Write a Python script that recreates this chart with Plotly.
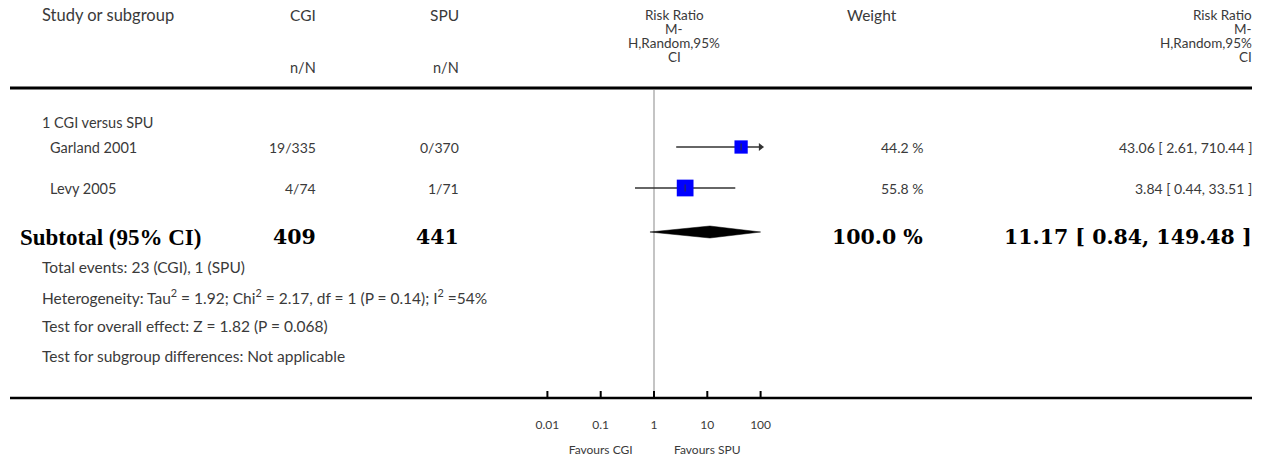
import plotly.graph_objects as go

# ---------------- data ----------------
studies = ["Garland 2001", "Levy 2005"]
cgi_nN = ["19/335", "4/74"]
spu_nN = ["0/370", "1/71"]
rr = [43.06, 3.84]
ci_lo = [2.61, 0.44]
ci_hi = [710.44, 33.51]
weights = [44.2, 55.8]
weight_txt = ["44.2 %", "55.8 %"]
rr_txt = ["43.06 [ 2.61, 710.44 ]", "3.84 [ 0.44, 33.51 ]"]

sub_cgi_total = "409"
sub_spu_total = "441"
sub_rr = 11.17
sub_lo = 0.84
sub_hi = 149.48
sub_weight_txt = "100.0 %"
sub_rr_txt = "11.17 [ 0.84, 149.48 ]"

tick_vals = [0.01, 0.1, 1, 10, 100]
tick_text = ["0.01", "0.1", "1", "10", "100"]

footer_lines = [
    "Total events: 23 (CGI), 1 (SPU)",
    "Heterogeneity: Tau<sup>2</sup> = 1.92; Chi<sup>2</sup> = 2.17, df = 1 (P = 0.14); I<sup>2</sup> =54%",
    "Test for overall effect: Z = 1.82 (P = 0.068)",
    "Test for subgroup differences: Not applicable",
]

# ---------------- layout constants ----------------
W, H = 1268, 465
X1_PX = 654.0        # pixel of RR = 1
DEC_PX = 53.3        # pixels per decade
AX_MIN, AX_MAX = 0.01, 100
x_range = [(0 - X1_PX) / DEC_PX, (W - X1_PX) / DEC_PX]

FONT = "Lato, 'Open Sans', sans-serif"
SERIF = "'Liberation Serif', serif"
SERIF2 = "'DejaVu Serif', serif"
TXT = "#3a3a3a"
FS = 14.5
FSN = 14

row_y = [147, 188]
sub_y = 232
head_line_y = 88
axis_y = 398

col_cgi = 318 / W
col_spu = 461 / W
col_w = 925 / W
col_rr = 1254 / W
col_mid = 674 / W

fig = go.Figure()

def clip(v):
    return min(max(v, AX_MIN), AX_MAX)

# header and axis horizontal rules (in paper x)
for yy, lw in [(head_line_y, 3), (axis_y, 2.5)]:
    fig.add_shape(type="line", xref="paper", yref="y", x0=10 / W, x1=1252 / W,
                  y0=yy, y1=yy, line=dict(color="black", width=lw))

# line of no effect
fig.add_trace(go.Scatter(x=[1, 1], y=[head_line_y + 2, axis_y], mode="lines",
                         line=dict(color="#b0b0b0", width=1.5), hoverinfo="skip",
                         showlegend=False))

# ticks
for tv in tick_vals:
    fig.add_trace(go.Scatter(x=[tv, tv], y=[axis_y - 7, axis_y], mode="lines",
                             line=dict(color="black", width=2), hoverinfo="skip",
                             showlegend=False))
fig.add_trace(go.Scatter(x=tick_vals, y=[426] * len(tick_vals), mode="text",
                         text=tick_text, textfont=dict(family=FONT, size=12, color=TXT),
                         hoverinfo="skip", showlegend=False))
fig.add_trace(go.Scatter(x=[0.1, 10], y=[451, 451], mode="text",
                         text=["Favours CGI", "Favours SPU"],
                         textfont=dict(family=FONT, size=12, color=TXT),
                         hoverinfo="skip", showlegend=False))

# study CIs, squares
for i in range(len(studies)):
    lo, hi = clip(ci_lo[i]), clip(ci_hi[i])
    fig.add_trace(go.Scatter(x=[lo, hi], y=[row_y[i]] * 2, mode="lines",
                             line=dict(color="#333333", width=1.5),
                             hoverinfo="skip", showlegend=False))
    if ci_hi[i] > AX_MAX:
        fig.add_trace(go.Scatter(x=[AX_MAX], y=[row_y[i]], mode="markers",
                                 marker=dict(symbol="triangle-right", size=7, color="#333333",
                                             line=dict(width=0)),
                                 hoverinfo="skip", showlegend=False))
    fig.add_trace(go.Scatter(x=[rr[i]], y=[row_y[i]], mode="markers",
                             marker=dict(symbol="square", size=weights[i] * 0.3,
                                         color="#0000ff", line=dict(width=0)),
                             hoverinfo="skip", showlegend=False))
    fig.add_trace(go.Scatter(x=[rr[i]], y=[row_y[i]], mode="markers",
                             marker=dict(symbol="line-ns", size=5,
                                         line=dict(color="#333333", width=1)),
                             hoverinfo="skip", showlegend=False))

# diamond
dh = 6
fig.add_trace(go.Scatter(
    x=[clip(sub_lo), sub_rr, clip(sub_hi), sub_rr, clip(sub_lo)],
    y=[sub_y, sub_y - dh, sub_y, sub_y + dh, sub_y],
    mode="lines", fill="toself", fillcolor="black",
    line=dict(color="black", width=0.5), hoverinfo="skip", showlegend=False))

# ---------------- text annotations ----------------
ann = []

def txt(x, y, s, anchor="left", size=FS, family=FONT, color=TXT, bold=False):
    if bold:
        s = "<b>" + s + "</b>"
    ann.append(dict(x=x, y=y, xref="paper", yref="y", text=s, showarrow=False,
                    xanchor=anchor, yanchor="middle",
                    font=dict(family=family, size=size, color=color)))

# header
hy = [15, 29, 43, 57]
txt(40 / W, hy[0], "Study or subgroup", size=16.5)
txt(col_cgi, hy[0], "CGI", "right", size=15.5)
txt(col_spu, hy[0], "SPU", "right", size=15.5)
txt(col_cgi, 67, "n/N", "right")
txt(col_spu, 67, "n/N", "right")
for yy, s in zip(hy, ["Risk Ratio", "M-", "H,Random,95%", "CI"]):
    txt(col_mid, yy, s, "center", size=13.5)
    txt(col_rr, yy, s, "right", size=13.5)
txt(872 / W, hy[0], "Weight", "center", size=15.5)

# subgroup
txt(40 / W, 122, "1 CGI versus SPU", size=FS)
for i in range(len(studies)):
    txt(48 / W, row_y[i], studies[i])
    txt(col_cgi, row_y[i], cgi_nN[i], "right", size=FSN)
    txt(col_spu, row_y[i], spu_nN[i], "right", size=FSN)
    txt(col_w, row_y[i], weight_txt[i], "right", size=FSN)
    txt(col_rr, row_y[i], rr_txt[i], "right", size=FSN)

txt(18 / W, 237, "Subtotal (95% CI)", size=23, family=SERIF, color="black", bold=True)
NUMS = 20.5
txt(col_cgi, 237, sub_cgi_total, "right", size=NUMS, family=SERIF2, color="black", bold=True)
txt(col_spu, 237, sub_spu_total, "right", size=NUMS, family=SERIF2, color="black", bold=True)
txt(col_w, 237, sub_weight_txt, "right", size=NUMS, family=SERIF2, color="black", bold=True)
txt(col_rr, 237, sub_rr_txt, "right", size=NUMS, family=SERIF2, color="black", bold=True)

for k, s in enumerate(footer_lines):
    txt(40 / W, 267 + 29.6 * k, s, size=15.5)

fig.update_layout(
    width=W, height=H,
    margin=dict(l=0, r=0, t=0, b=0),
    paper_bgcolor="white", plot_bgcolor="white",
    xaxis=dict(type="log", range=x_range, visible=False, domain=[0, 1]),
    yaxis=dict(range=[H, 0], visible=False, domain=[0, 1]),
    annotations=ann,
    showlegend=False,
)

fig.write_html("out.html", config={"displayModeBar": False},
               post_script="document.body.style.margin='0';")
